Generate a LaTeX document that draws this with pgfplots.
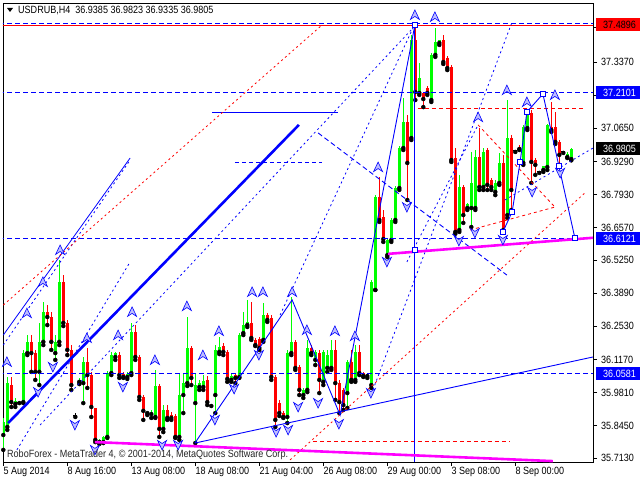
\documentclass[border=0pt]{standalone}
\usepackage{pgfplots}
\pgfplotsset{compat=1.18}
\usepackage{pgfplotstable}
\usepackage{fontspec}
\setmainfont{Liberation Sans}[FakeStretch=0.86]
\definecolor{mtgreen}{RGB}{0,255,0}
\definecolor{mtred}{RGB}{255,0,0}
\definecolor{mtblue}{RGB}{0,0,255}
\definecolor{mtmag}{RGB}{255,0,255}
\definecolor{fracfill}{RGB}{190,190,255}
\pgfdeclareplotmark{fup}{\pgfpathmoveto{\pgfpoint{0pt}{5pt}}\pgfpathlineto{\pgfpoint{4.5pt}{-4.5pt}}\pgfpathlineto{\pgfpoint{0pt}{-1.5pt}}\pgfpathlineto{\pgfpoint{-4.5pt}{-4.5pt}}\pgfpathclose\pgfusepathqfillstroke}
\pgfdeclareplotmark{fdn}{\pgfpathmoveto{\pgfpoint{0pt}{-5pt}}\pgfpathlineto{\pgfpoint{4.5pt}{4.5pt}}\pgfpathlineto{\pgfpoint{0pt}{1.5pt}}\pgfpathlineto{\pgfpoint{-4.5pt}{4.5pt}}\pgfpathclose\pgfusepathqfillstroke}
\newcommand{\mtfont}{\fontsize{10.5pt}{12pt}\selectfont}
\pgfplotstableread{
i o h l c
0 35.807 35.877 35.746 35.860
1 35.840 36.045 35.828 36.020
2 36.012 36.045 35.922 35.942
3 35.934 35.959 35.922 35.947
4 35.942 35.947 35.938 35.942
5 35.942 36.156 35.938 36.143
6 36.143 36.217 36.135 36.189
7 36.189 36.217 36.066 36.143
8 36.143 36.156 36.033 36.066
9 36.066 36.267 36.012 36.189
10 36.189 36.353 36.176 36.312
11 36.312 36.340 36.258 36.291
12 36.291 36.312 36.156 36.189
13 36.143 36.217 36.115 36.189
14 36.189 36.525 36.176 36.435
15 36.435 36.463 36.254 36.267
16 36.267 36.279 36.135 36.156
17 36.156 36.176 35.992 36.012
18 35.889 35.897 35.881 35.889
19 36.025 36.041 36.016 36.033
20 36.020 36.127 35.938 36.107
21 36.107 36.164 36.000 36.053
22 36.053 36.066 35.881 35.922
23 35.918 35.918 35.778 35.787
24 35.778 35.791 35.770 35.787
25 35.778 35.803 35.774 35.799
26 35.799 36.070 35.795 36.061
27 36.061 36.148 36.053 36.135
28 36.127 36.148 36.115 36.143
29 36.135 36.148 36.041 36.053
30 36.057 36.066 36.041 36.045
31 36.045 36.066 36.037 36.057
32 36.061 36.267 36.053 36.230
33 36.230 36.258 36.115 36.127
34 36.127 36.135 35.951 35.963
35 35.963 35.971 35.869 35.906
36 35.897 35.906 35.889 35.901
37 35.893 35.910 35.877 35.897
38 35.881 36.074 35.877 36.008
39 36.008 36.016 35.799 35.832
40 35.832 35.930 35.819 35.910
41 35.910 35.930 35.869 35.877
42 35.889 35.901 35.869 35.877
43 35.885 35.893 35.795 35.799
44 35.799 36.061 35.787 35.971
45 35.971 36.061 35.897 36.020
46 36.020 36.291 36.008 36.164
47 36.164 36.172 36.012 36.041
48 35.938 36.061 35.774 36.012
49 36.004 36.033 35.992 36.020
50 36.004 36.053 35.992 36.029
51 36.033 36.049 35.930 35.942
52 35.930 35.934 35.926 35.930
53 35.971 36.176 35.897 36.156
54 36.148 36.209 36.139 36.168
55 36.172 36.184 36.135 36.148
56 36.148 36.156 36.025 36.037
57 36.033 36.057 36.025 36.049
58 36.053 36.057 36.020 36.041
59 36.045 36.225 36.041 36.217
60 36.225 36.312 36.217 36.258
61 36.258 36.361 36.250 36.271
62 36.267 36.353 36.197 36.205
63 36.197 36.205 36.172 36.176
64 36.201 36.209 36.156 36.164
65 36.197 36.349 36.189 36.299
66 36.299 36.308 36.271 36.279
67 36.287 36.299 36.033 36.045
68 36.045 36.053 35.840 35.869
69 35.938 35.951 35.885 35.897
70 35.897 35.906 35.877 35.881
71 35.881 36.156 35.856 36.143
72 36.143 36.373 36.135 36.189
73 36.189 36.197 36.074 36.082
74 36.086 36.094 35.971 35.992
75 35.971 36.000 35.959 35.992
76 35.992 36.197 35.983 36.164
77 36.164 36.176 36.135 36.143
78 36.115 36.156 36.094 36.148
79 36.143 36.156 35.979 36.033
80 36.025 36.156 36.012 36.148
81 36.082 36.156 36.066 36.135
82 36.082 36.197 36.074 36.156
83 36.156 36.197 35.951 36.020
84 36.020 36.033 35.897 35.942
85 35.992 36.000 35.910 35.930
86 35.979 36.115 35.918 36.107
87 36.107 36.156 36.025 36.033
88 36.033 36.176 36.025 36.148
89 36.148 36.176 36.053 36.061
90 36.061 36.066 36.045 36.049
91 36.053 36.057 36.041 36.049
92 36.012 36.443 36.000 36.435
93 36.402 36.791 36.402 36.783
94 36.783 36.865 36.681 36.689
95 36.701 36.730 36.599 36.611
96 36.545 36.615 36.537 36.607
97 36.607 36.697 36.599 36.689
98 36.689 36.828 36.681 36.820
99 36.820 36.992 36.812 36.984
100 36.984 37.189 36.976 37.091
101 37.091 37.120 36.771 36.923
102 37.025 37.448 37.017 37.427
103 37.427 37.4896 37.181 37.214
104 37.210 37.333 37.202 37.271
105 37.210 37.214 37.152 37.185
106 37.230 37.239 37.202 37.210
107 37.181 37.374 37.173 37.366
108 37.366 37.477 37.358 37.419
109 37.415 37.427 37.407 37.427
110 37.427 37.448 37.329 37.337
111 37.353 37.362 37.304 37.312
112 37.316 37.325 36.927 36.935
113 36.943 36.984 36.632 36.640
114 36.648 36.874 36.640 36.824
115 36.824 36.833 36.677 36.709
116 36.738 36.759 36.730 36.755
117 36.738 36.968 36.660 36.841
118 36.738 36.976 36.730 36.947
119 36.947 37.066 36.812 36.824
120 36.824 36.984 36.812 36.968
121 36.976 36.984 36.812 36.833
122 36.853 36.861 36.812 36.824
123 36.804 36.853 36.791 36.841
124 36.841 36.964 36.833 36.923
125 36.923 36.956 36.640 36.648
126 36.709 37.181 36.697 37.025
127 37.025 37.037 36.730 36.812
128 36.972 36.976 36.968 36.972
129 36.988 36.997 36.976 36.980
130 36.923 37.079 36.915 37.070
131 37.066 37.140 37.058 37.128
132 37.128 37.140 36.841 36.927
133 36.935 36.943 36.874 36.915
134 36.886 36.890 36.882 36.886
135 36.894 36.910 36.886 36.910
136 36.906 37.083 36.894 37.079
137 37.070 37.173 37.050 37.058
138 37.070 37.132 37.001 37.009
139 37.009 37.017 36.915 36.956
140 36.968 36.972 36.964 36.968
141 36.947 36.968 36.943 36.960
142 36.9385 36.9823 36.9335 36.9805
}\bars
\pgfplotsset{
  wick/.style={forget plot, only marks, mark=none,
    error bars/y dir=plus, error bars/y explicit, error bars/error mark=none,
    error bars/error bar style={line width=1pt, draw=#1, solid}},
  body/.style={forget plot, only marks, mark=none,
    error bars/y dir=plus, error bars/y explicit, error bars/error mark=none,
    error bars/error bar style={line width=3pt, draw=#1, solid}},
  dsh/.style={dash pattern=on 5pt off 3pt, line width=0.9pt},
  dtt/.style={dash pattern=on 2pt off 3pt, line width=0.8pt},
}
\begin{document}
\begin{tikzpicture}
\useasboundingbox (0,0) rectangle (640pt,480pt);
\fill[white] (0,0) rectangle (640pt,480pt);
\begin{axis}[
  at={(3pt,18pt)}, anchor=south west, scale only axis,
  width=590pt, height=459pt,
  xmin=-0.075, xmax=147.425, ymin=35.6963, ymax=37.5790,
  clip mode=individual,
  axis line style={black, line width=0.8pt},
  tick align=outside, major tick length=4pt,
  tick style={black, line width=0.7pt},
  xtick pos=left, ytick pos=right, yticklabel pos=right,
  xtick={0,16,32,48,64,80,96,112,128}, xticklabels={,,,,,,,,},
  ytick={35.713,35.845,35.981,36.117,36.253,36.389,36.525,36.657,36.793,36.929,37.065,37.201,37.337,37.479},
  yticklabels={35.7130,35.8450,35.9810,36.1170,36.2530,36.3890,36.5250,36.6570,36.7930,36.9290,37.0650,,37.3370,},
  yticklabel style={font=\mtfont, anchor=west, inner sep=0pt, xshift=4pt},
]
% candles: wicks
\addplot[restrict expr to domain={\thisrow{c}-\thisrow{o}}{0.00005:10}, wick=mtgreen]
  table[x=i, y=l, y error plus expr={\thisrow{h}-\thisrow{l}}] {\bars};
\addplot[restrict expr to domain={\thisrow{c}-\thisrow{o}}{-10:-0.00005}, wick=mtred]
  table[x=i, y=l, y error plus expr={\thisrow{h}-\thisrow{l}}] {\bars};
\addplot[restrict expr to domain={\thisrow{c}-\thisrow{o}}{-0.00005:0.00005}, wick=black]
  table[x=i, y=l, y error plus expr={\thisrow{h}-\thisrow{l}}] {\bars};
% candles: bodies
\addplot[restrict expr to domain={\thisrow{c}-\thisrow{o}}{0.00005:10}, body=mtgreen]
  table[x=i, y=o, y error plus expr={\thisrow{c}-\thisrow{o}}] {\bars};
\addplot[restrict expr to domain={\thisrow{c}-\thisrow{o}}{-10:-0.00005}, body=mtred]
  table[x=i, y=c, y error plus expr={\thisrow{o}-\thisrow{c}}] {\bars};
\addplot[forget plot, only marks, mark=-, mark size=2pt, black, line width=1pt,
  restrict expr to domain={\thisrow{c}-\thisrow{o}}{-0.00005:0.00005}]
  table[x=i, y=c] {\bars};
% horizontal levels
\addplot[mtblue, dsh] coordinates {(-1,37.4935) (148,37.4935)};
\addplot[mtred, line width=1.4pt] coordinates {(-1,37.4875) (148,37.4875)};
\addplot[mtblue, dsh] coordinates {(-1,37.2101) (148,37.2101)};
\addplot[mtblue, dsh] coordinates {(-1,36.6121) (148,36.6121)};
\addplot[mtblue, dsh] coordinates {(-1,36.0581) (148,36.0581)};
\addplot[mtred, dash pattern=on 4pt off 3pt, line width=0.8pt] coordinates {(103.7,37.148) (145.4,37.148)};
\addplot[mtred, dash pattern=on 4pt off 3pt, line width=0.8pt] coordinates {(77.4,35.780) (126.7,35.780)};
\addplot[mtblue, dash pattern=on 4pt off 3pt, line width=0.8pt] coordinates {(57.9,36.927) (79.7,36.927)};
\addplot[mtblue, line width=0.9pt] coordinates {(52.2,37.132) (83.7,37.132)};
% trend lines
\addplot[mtblue, line width=2.6pt] coordinates {(1.2,35.856) (73.9,37.079)};
\addplot[mtblue, line width=0.8pt] coordinates {(0,36.217) (31.7,36.943)};
\addplot[mtblue, dtt] coordinates {(0,36.176) (31.7,36.935)};
\addplot[mtblue, dtt] coordinates {(3.4,35.746) (31.7,36.517)};
\addplot[mtred, dtt] coordinates {(0,36.340) (79.7,37.489)};
\addplot[mtred, dtt] coordinates {(71.7,35.705) (145.4,36.800)};
\addplot[mtblue, dtt] coordinates {(9.2,35.848) (102.4,37.476)};
\addplot[mtblue, dtt] coordinates {(69.2,36.299) (102.4,37.476)};
\addplot[mtblue, dtt] coordinates {(92.4,35.992) (127.2,37.501)};
\addplot[mtblue, dtt] coordinates {(100.9,36.517) (118.7,37.079)};
\addplot[mtblue, dsh] coordinates {(78.7,37.046) (125.9,36.463)};
\addplot[mtblue, dtt] coordinates {(125.4,36.771) (147.4,36.984)};
\addplot[mtred, dash pattern=on 3pt off 3pt, line width=0.8pt] coordinates {(118.7,37.079) (137.9,36.742)};
\addplot[mtred, dash pattern=on 3pt off 3pt, line width=0.8pt] coordinates {(116.7,36.648) (137.9,36.742)};
\addplot[mtblue, line width=0.9pt] coordinates {(47.9,35.774) (72.2,36.361) (84.2,35.889) (102.9,37.489)};
\addplot[mtblue, line width=0.9pt] coordinates {(47.9,35.774) (147.4,36.127)};
\addplot[mtblue, line width=0.9pt] coordinates {(102.9,35.6963) (102.9,37.489)};
\addplot[mtblue, line width=0.9pt] coordinates {(124.9,36.640) (127.2,36.722) (129.2,36.927) (130.9,37.132) (134.9,37.206) (138.9,36.910) (142.9,36.615)};
\addplot[mtmag, line width=2.6pt] coordinates {(22.9,35.778) (137.4,35.700)};
\addplot[mtmag, line width=2.6pt] coordinates {(96.2,36.550) (147.4,36.616)};
% zigzag vertices
\addplot[only marks, mark=square*, mark size=2.3pt, mark options={fill=white, draw=mtblue, line width=0.8pt}]
  coordinates {(102.9,37.489) (102.9,36.566) (124.9,36.640) (127.2,36.722) (129.2,36.927) (130.9,37.132) (134.9,37.206) (138.9,36.910) (142.9,36.615)};
% fractals
\addplot[only marks, mark=fup, mark options={fill=fracfill, draw=mtblue, line width=0.6pt, solid}]
  coordinates {(0.9,36.107) (5.9,36.307) (9.9,36.435) (14.2,36.566) (20.9,36.205) (28.7,36.217) (32.2,36.312) (37.9,36.115) (45.9,36.336) (49.9,36.135) (53.9,36.234) (62.2,36.394) (64.9,36.394) (72.2,36.394) (75.9,36.238) (82.9,36.234) (87.9,36.213) (93.7,36.906) (102.9,37.530) (107.9,37.522) (118.7,37.111) (125.9,37.222) (130.9,37.173) (137.9,37.202)};
\addplot[only marks, mark=fdn, mark options={fill=fracfill, draw=mtblue, line width=0.6pt, solid}]
  coordinates {(8.7,35.983) (12.4,36.086) (17.9,35.848) (22.9,35.746) (29.9,36.004) (39.7,35.766) (43.7,35.766) (52.9,35.869) (57.7,35.996) (63.9,36.135) (68.2,35.819) (71.2,35.828) (73.7,35.922) (78.7,35.938) (83.9,35.852) (91.9,35.979) (95.9,36.517) (100.9,36.742) (113.9,36.603) (117.9,36.636) (124.9,36.607) (132.2,36.804) (139.2,36.882)};
\coordinate (pA) at (axis cs:147.425,37.4896);
\coordinate (pB) at (axis cs:147.425,37.2101);
\coordinate (pC) at (axis cs:147.425,36.9805);
\coordinate (pD) at (axis cs:147.425,36.6121);
\coordinate (pE) at (axis cs:147.425,36.0581);
\end{axis}
% price boxes
\fill[mtred] ([shift={(3pt,-6.5pt)}]pA) rectangle ([shift={(48pt,6.5pt)}]pA);
\node[anchor=west, inner sep=0pt, black, font=\mtfont] at ([xshift=10pt]pA) {37.4896};
\fill[mtblue] ([shift={(3pt,-6.5pt)}]pB) rectangle ([shift={(48pt,6.5pt)}]pB);
\node[anchor=west, inner sep=0pt, white, font=\mtfont] at ([xshift=10pt]pB) {37.2101};
\fill[black] ([shift={(3pt,-6.5pt)}]pC) rectangle ([shift={(48pt,6.5pt)}]pC);
\node[anchor=west, inner sep=0pt, white, font=\mtfont] at ([xshift=10pt]pC) {36.9805};
\fill[mtblue] ([shift={(3pt,-6.5pt)}]pD) rectangle ([shift={(48pt,6.5pt)}]pD);
\node[anchor=west, inner sep=0pt, white, font=\mtfont] at ([xshift=10pt]pD) {36.6121};
\fill[mtblue] ([shift={(3pt,-6.5pt)}]pE) rectangle ([shift={(48pt,6.5pt)}]pE);
\node[anchor=west, inner sep=0pt, white, font=\mtfont] at ([xshift=10pt]pE) {36.0581};
% date labels
\foreach \xx/\lab in {3.3/5 Aug 2014, 67.3/8 Aug 16:00, 131.3/13 Aug 08:00, 195.3/18 Aug 08:00, 259.3/21 Aug 04:00, 323.3/26 Aug 08:00, 387.3/29 Aug 00:00, 451.3/3 Sep 08:00, 515.3/8 Sep 00:00}
  \node[anchor=base west, inner sep=0pt, font=\mtfont] at (\xx pt,5.5pt) {\lab};
% title and footer
\fill[black] (7pt,472pt) -- (13pt,472pt) -- (10pt,468pt) -- cycle;
\node[anchor=base west, inner sep=0pt, font=\mtfont] at (18pt,466pt) {USDRUB,H4\ \ 36.9385 36.9823 36.9335 36.9805};
\node[anchor=base west, inner sep=0pt, font=\mtfont, black!85] at (7pt,23pt) {RoboForex - MetaTrader 4, © 2001-2014, MetaQuotes Software Corp.};
\end{tikzpicture}
\end{document}
